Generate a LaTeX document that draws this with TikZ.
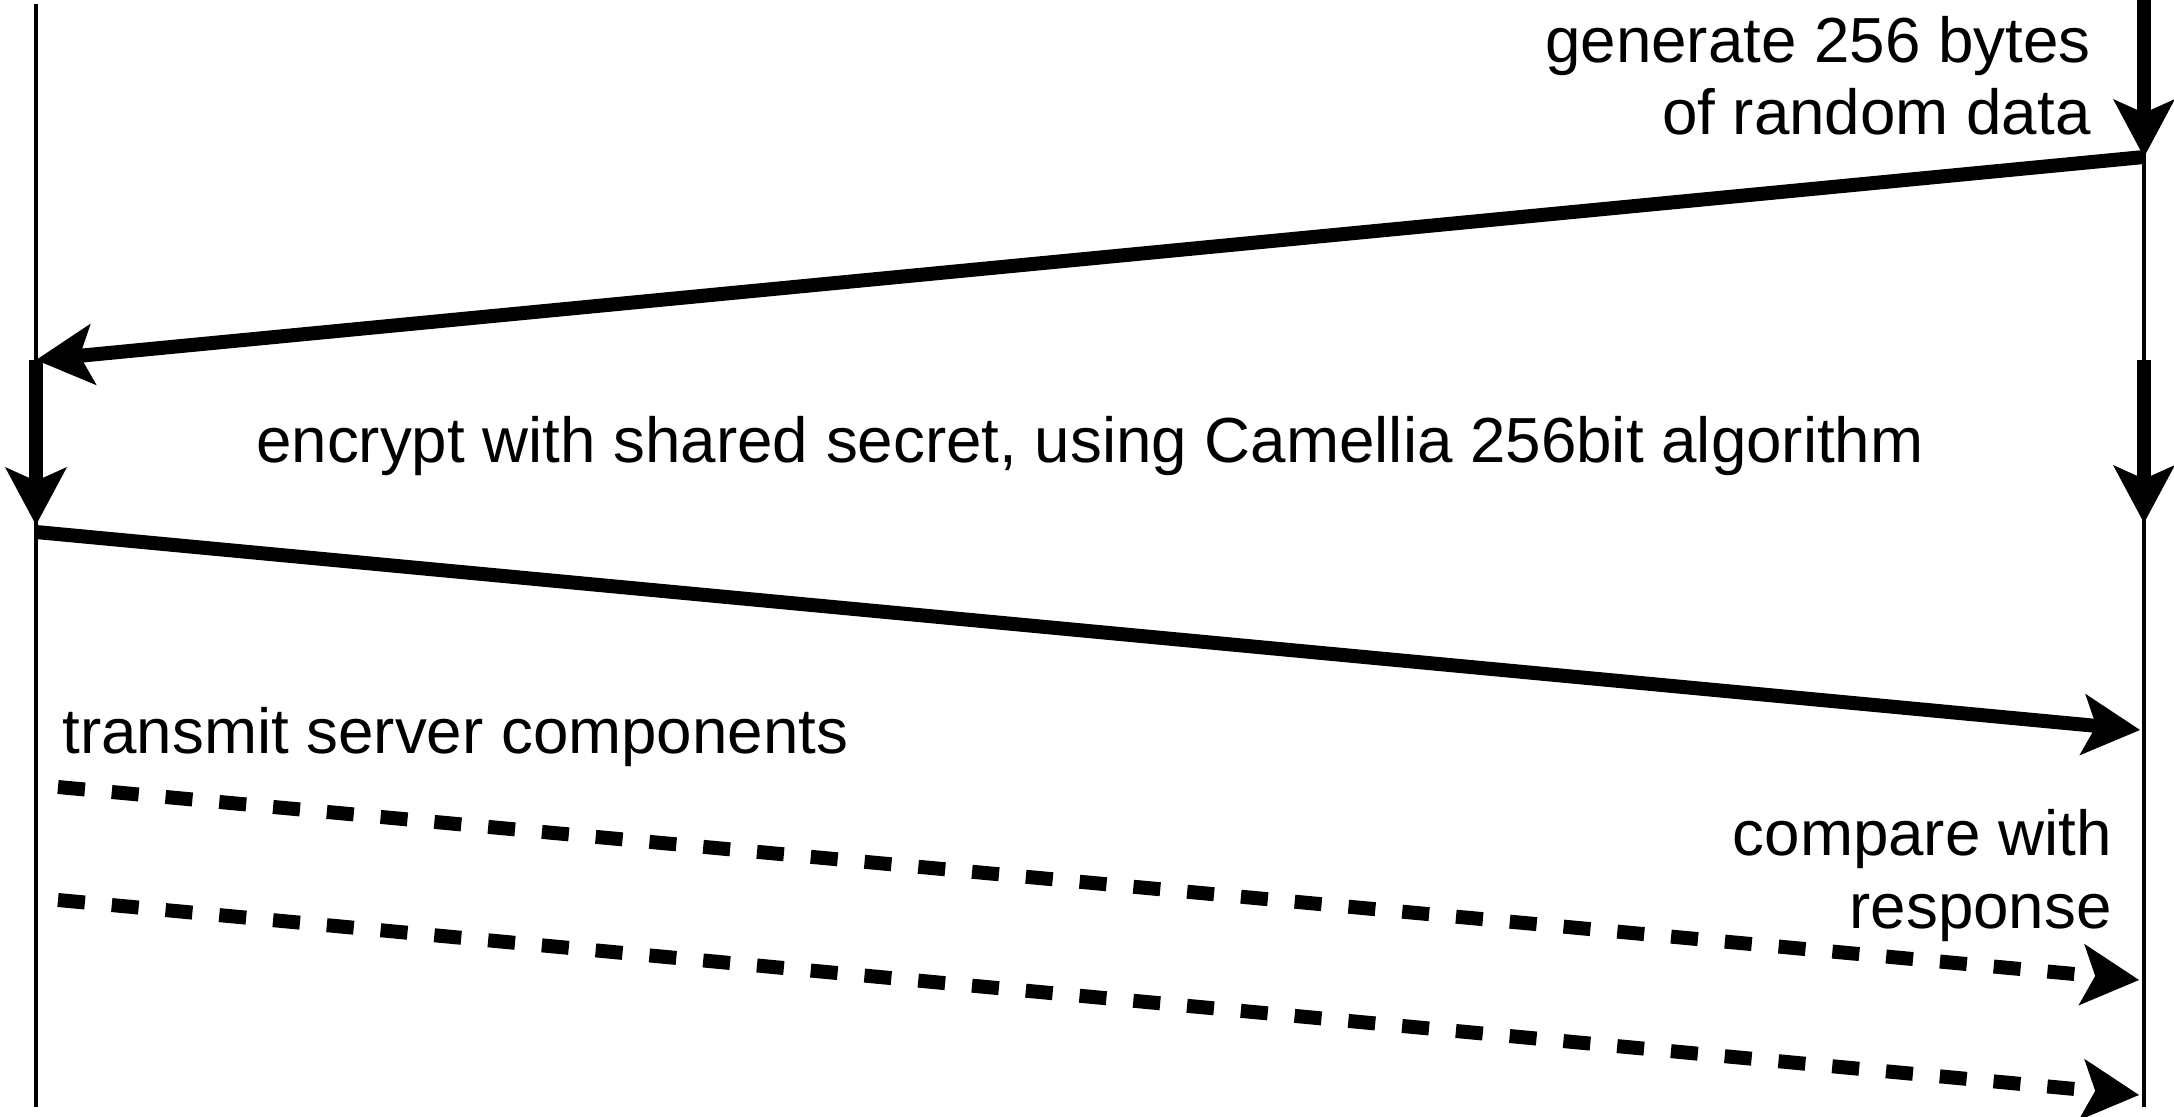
\documentclass[tikz,border=0pt]{standalone}
\usepackage{fontspec}
\setmainfont{Liberation Sans}
\usetikzlibrary{arrows.meta}
\begin{document}
\begin{tikzpicture}[x=0.5pt,y=-0.5pt,
  lifeline/.style={line width=1.6pt},
  msg/.style={line width=7pt,
    -{Stealth[length=29pt,width=31pt,inset=7pt,line width=0pt]}},
  dashmsg/.style={msg,dash pattern=on 13.5pt off 13.5pt},
  label/.style={inner sep=0pt,font=\fontsize{31.85}{36}\selectfont}]
\useasboundingbox (0,0) rectangle (2174,1117);

% lifelines
\coordinate (Ltop) at (36,4);
\coordinate (Lbot) at (36,1107);
\coordinate (Rtop) at (2144,0);
\coordinate (Rbot) at (2144,1107);
\draw[lifeline] (Ltop) -- (Lbot);
\draw[lifeline] (Rtop) -- (Rbot);

% message points
\coordinate (R1) at (2144,157);
\coordinate (L1) at (36,360);
\coordinate (L2) at (36,525);
\coordinate (R2a) at (2144,360);
\coordinate (R2) at (2144,523);
\coordinate (L3) at (36,532);
\coordinate (R3) at (2140,730);
\coordinate (D1a) at (58,787);
\coordinate (D1b) at (2139,980);
\coordinate (D2a) at (58,900);
\coordinate (D2b) at (2139,1095);

% messages
\draw[msg] (Rtop) -- (R1);
\draw[msg] (R1) -- (L1);
\draw[msg] (L1) -- (L2);
\draw[msg] (R2a) -- (R2);
\draw[msg] (L3) -- (R3);
\draw[dashmsg] (D1a) -- (D1b);
\draw[dashmsg] (D2a) -- (D2b);

% labels
\node[label,anchor=base east] (gen1) at (2091,63) {generate 256 bytes};
\node[label,anchor=base east] (gen2) at (2091,135) {of random data};
\node[label,anchor=base] (enc) at (1090,463) {encrypt with shared secret, using Camellia 256bit algorithm};
\node[label,anchor=base west] (tx) at (62,753) {transmit server components};
\node[label,anchor=base east] (cmp1) at (2112,855) {compare with};
\node[label,anchor=base east] (cmp2) at (2112,928) {response};
\end{tikzpicture}
\end{document}
